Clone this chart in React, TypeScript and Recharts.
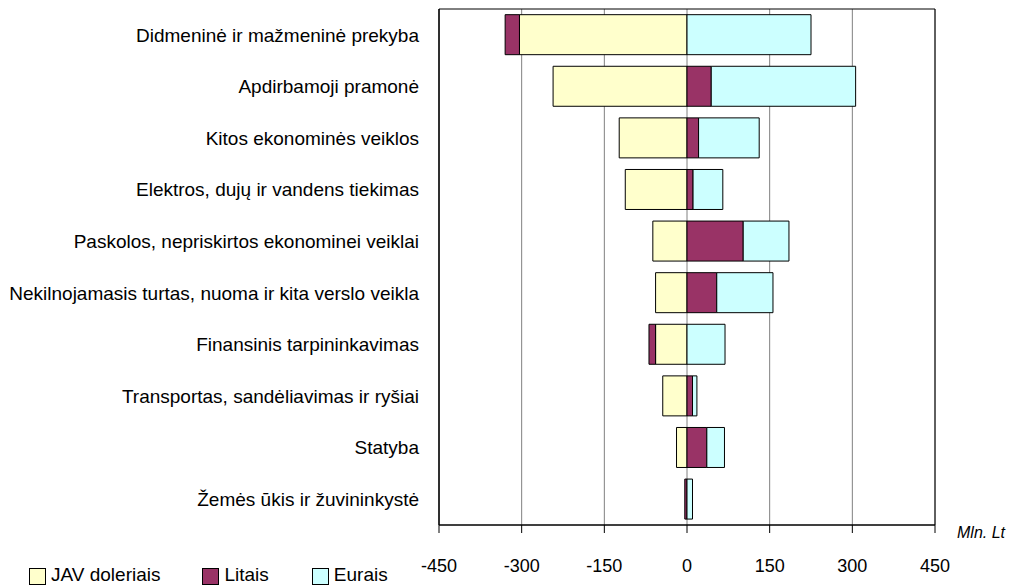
import { BarChart, Bar, XAxis, YAxis, CartesianGrid, ReferenceArea } from "recharts";

const categories = [
  "Didmeninė ir mažmeninė prekyba",
  "Apdirbamoji pramonė",
  "Kitos ekonominės veiklos",
  "Elektros, dujų ir vandens tiekimas",
  "Paskolos, nepriskirtos ekonominei veiklai",
  "Nekilnojamasis turtas, nuoma ir kita verslo veikla",
  "Finansinis tarpininkavimas",
  "Transportas, sandėliavimas ir ryšiai",
  "Statyba",
  "Žemės ūkis ir žuvininkystė",
];
const javDoleriais = [-304, -243, -123, -112, -62, -57, -57, -44, -19, 0];
const litais = [-26, 44, 21, 11, 102, 54, -12, 10, 36, -4];
const eurais = [225, 262, 110, 54, 83, 102, 69, 8, 32, 10];
const xTicks = [-450, -300, -150, 0, 150, 300, 450];

const series = [
  { key: "jav", name: "JAV doleriais", color: "#FFFFCC" },
  { key: "lit", name: "Litais", color: "#993366" },
  { key: "eur", name: "Eurais", color: "#CCFFFF" },
];

const data = categories.map((name, i) => ({
  name,
  jav: javDoleriais[i],
  lit: litais[i],
  eur: eurais[i],
}));

const font = "'Liberation Sans', Arial, sans-serif";

export default function App() {
  return (
    <div style={{ position: "absolute", left: 0, top: 0, width: 1013, height: 588, fontFamily: font, background: "#fff" }}>
      <BarChart
        width={1013}
        height={588}
        data={data}
        layout="vertical"
        stackOffset="sign"
        barCategoryGap="11%"
        margin={{ top: 9, right: 78, bottom: 8, left: 0 }}
      >
        <CartesianGrid horizontal={false} stroke="#808080" />
        <XAxis
          type="number"
          domain={[-450, 450]}
          ticks={xTicks}
          interval={0}
          height={55}
          tickSize={8}
          tickMargin={26}
          stroke="#000"
          tick={{ fill: "#000", fontSize: 18, fontFamily: font }}
          label={(p: any) => {
            const vb = p.viewBox;
            return (
              <text x={vb.x + vb.width + 22} y={vb.y + 13} fontSize={16} fontStyle="italic" fontFamily={font} fill="#000">
                Mln. Lt
              </text>
            );
          }}
        />
        <YAxis
          type="category"
          dataKey="name"
          width={439}
          tickLine={false}
          tickSize={0}
          tickMargin={20}
          stroke="#000"
          interval={0}
          tick={{ fill: "#000", fontSize: 19, fontFamily: font }}
        />
        <ReferenceArea x1={-450} x2={450} fill="none" stroke="#000" strokeWidth={1} />
        {series.map((s) => (
          <Bar
            key={s.key}
            dataKey={s.key}
            name={s.name}
            stackId="a"
            fill={s.color}
            stroke="#000"
            strokeWidth={1}
            isAnimationActive={false}
          />
        ))}
      </BarChart>
      <div style={{ position: "absolute", left: 29, top: 564, display: "flex", fontSize: 19, color: "#000" }}>
        {series.map((s, i) => (
          <div key={s.key} style={{ display: "flex", alignItems: "center", marginRight: i === 0 ? 42 : 43 }}>
            <span
              style={{
                display: "inline-block",
                width: 15,
                height: 15,
                background: s.color,
                border: "1px solid #000",
                marginRight: 5,
                marginTop: 3,
              }}
            />
            <span>{s.name}</span>
          </div>
        ))}
      </div>
    </div>
  );
}
